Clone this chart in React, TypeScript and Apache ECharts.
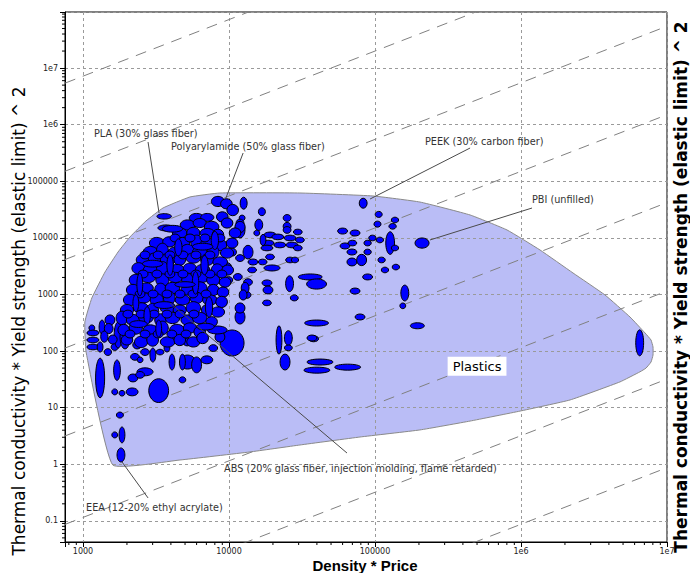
import React, { useEffect, useRef } from "react";
import * as echarts from "echarts";

// Axis ranges (log scales)
const X_MIN = 753;
const X_MAX = 1e7;
const Y_MIN = 0.0423;
const Y_MAX = 9.8e7;

const xTitle = "Density * Price";
const yTitle = "Thermal conductivity * Yield strength (elastic limit) ^ 2";

// Guide lines: y = ratio * x (slope 1 on log-log)
const guideRatios = [7200, 200, 5.5, 0.15, 0.0042, 0.000115, 0.0000032, 0.000000087];

// "Plastics" envelope outline (data units)
const envelopeX = [1600, 1050, 1030, 1150, 1416, 1738, 2100, 2700, 3530, 5400, 8670, 30600, 96800, 203000, 448000, 802000, 1350000, 2270000, 3760000, 5580000, 7070000, 7770000, 8020000, 8020000, 7770000, 7180000, 6530000, 4760000, 2170000, 984000, 448000, 203000, 78900, 30600, 13900, 4620];
const envelopeY = [0.97, 96, 327, 867, 2500, 5630, 10400, 19900, 33700, 52800, 62100, 62100, 55000, 43000, 25400, 13800, 6110, 2400, 980, 400, 209, 157, 118, 85, 64, 50, 43, 28.5, 13.7, 8.7, 5.8, 4.04, 3.03, 2.19, 1.65, 1.19];

// Material ellipses: [x centre, y centre, half-range x (decades), half-range y (decades)]
const materialsSparse: number[][] = [
  [3600, 24000, 0.05, 0.048], [3700, 15000, 0.055, 0.053], [8400, 44000, 0.045, 0.09], [9600, 40000, 0.04, 0.09],
  [10600, 31000, 0.04, 0.1], [12600, 41000, 0.024, 0.106], [9000, 23500, 0.04, 0.09], [12300, 22500, 0.02, 0.05],
  [16800, 29000, 0.024, 0.07], [16000, 17000, 0.027, 0.1], [25000, 22500, 0.027, 0.06], [25000, 16000, 0.027, 0.07],
  [15500, 12200, 0.02, 0.05], [11900, 13800, 0.034, 0.14], [11900, 18300, 0.027, 0.07], [13500, 5600, 0.034, 0.12],
  [10500, 5600, 0.03, 0.07], [9700, 3100, 0.03, 0.07], [11900, 4400, 0.03, 0.06], [14600, 3750, 0.034, 0.053],
  [17000, 3750, 0.03, 0.05], [19100, 4600, 0.03, 0.05], [19700, 2940, 0.055, 0.053], [26200, 4070, 0.03, 0.05],
  [28300, 4070, 0.025, 0.05], [14400, 2710, 0.03, 0.05], [11500, 2040, 0.03, 0.06], [9900, 1800, 0.03, 0.06],
  [13500, 1650, 0.03, 0.06], [12900, 1300, 0.027, 0.1], [12500, 980, 0.027, 0.09], [18200, 1600, 0.034, 0.053],
  [18500, 1200, 0.034, 0.07], [18200, 710, 0.03, 0.05], [26000, 1550, 0.027, 0.14], [28000, 870, 0.027, 0.053],
  [36000, 2040, 0.082, 0.053], [39800, 1530, 0.068, 0.09], [73000, 1150, 0.034, 0.053], [89000, 2040, 0.034, 0.053],
  [83000, 41000, 0.027, 0.088], [106000, 26000, 0.024, 0.053], [104000, 17500, 0.024, 0.053], [60000, 13200, 0.034, 0.053],
  [73000, 12200, 0.034, 0.053], [62300, 7200, 0.034, 0.053], [70000, 8100, 0.03, 0.05], [89000, 8100, 0.025, 0.05],
  [69500, 5630, 0.034, 0.053], [89000, 5630, 0.025, 0.05], [69500, 3750, 0.034, 0.07], [81000, 4070, 0.034, 0.1],
  [96000, 9960, 0.025, 0.05], [108000, 9180, 0.025, 0.05], [127000, 8100, 0.03, 0.2], [137000, 20700, 0.025, 0.05],
  [132000, 16000, 0.025, 0.05], [137000, 6630, 0.025, 0.05], [111000, 4070, 0.025, 0.05], [117000, 2710, 0.025, 0.05],
  [139000, 3050, 0.025, 0.05], [160000, 1060, 0.027, 0.14], [155000, 630, 0.02, 0.05], [79000, 400, 0.034, 0.053],
  [195000, 280, 0.048, 0.053], [39800, 313, 0.082, 0.053], [38000, 165, 0.034, 0.053], [22000, 157, 0.02, 0.25],
  [25500, 170, 0.027, 0.13], [24200, 64, 0.034, 0.14], [25500, 114, 0.027, 0.05], [37000, 170, 0.034, 0.053],
  [42000, 64, 0.089, 0.053], [40000, 46, 0.089, 0.053], [65000, 52, 0.089, 0.053], [210000, 8100, 0.048, 0.09],
  [6500000, 140, 0.027, 0.23],
  [19100, 11300, 0.041, 0.05], [21600, 10400, 0.041, 0.05], [26200, 9960, 0.041, 0.05], [29600, 12700, 0.03, 0.05],
  [30600, 9180, 0.03, 0.05], [18500, 8120, 0.041, 0.05], [22300, 7490, 0.041, 0.05], [27000, 7490, 0.041, 0.05],
  [29600, 6630, 0.03, 0.05], [18200, 6630, 0.041, 0.05], [17100, 9180, 0.02, 0.1], [25000, 13800, 0.027, 0.06],
];

const materialsLow: number[][] = [
  [3300, 20, 0.068, 0.21], [1790, 7.4, 0.024, 0.053], [1650, 3.3, 0.02, 0.053], [1850, 3.3, 0.02, 0.14],
  [1820, 1.46, 0.027, 0.124], [1310, 33.5, 0.031, 0.35], [1710, 46, 0.023, 0.18], [1650, 19, 0.02, 0.053],
  [1850, 18, 0.02, 0.05], [2170, 19, 0.041, 0.07], [2200, 33.5, 0.034, 0.07], [2660, 43, 0.055, 0.07],
  [2460, 38, 0.03, 0.06], [4800, 31, 0.023, 0.053], [5200, 64, 0.055, 0.124], [6000, 57, 0.034, 0.14],
  [7050, 70, 0.041, 0.07], [4800, 64, 0.02, 0.14], [4070, 64, 0.02, 0.14], [10500, 139, 0.082, 0.23],
  [8670, 177, 0.034, 0.09], [7800, 113, 0.03, 0.06], [8300, 236, 0.068, 0.07], [11900, 400, 0.034, 0.124],
  [11900, 577, 0.034, 0.09], [13200, 980, 0.03, 0.06], [1150, 256, 0.02, 0.053], [1170, 209, 0.041, 0.05],
  [1170, 157, 0.041, 0.05], [1170, 118, 0.041, 0.05], [1350, 265, 0.02, 0.124], [1310, 118, 0.02, 0.09],
  [1530, 354, 0.034, 0.09], [1480, 96, 0.025, 0.06], [1650, 118, 0.025, 0.06], [1740, 192, 0.027, 0.23],
  [1940, 177, 0.034, 0.21], [2350, 128, 0.03, 0.07], [2270, 79, 0.03, 0.06], [2660, 96, 0.03, 0.06],
  [2460, 70, 0.02, 0.05], [3010, 85, 0.02, 0.124], [3370, 96, 0.027, 0.05], [3760, 113, 0.02, 0.07],
  [4270, 170, 0.03, 0.07], [5170, 145, 0.03, 0.07],
  [1500, 250, 0.03, 0.09], [1600, 160, 0.03, 0.08], [1400, 180, 0.025, 0.1],
];

const materialsCore: number[][] = [
  [6000, 22500, 0.05, 0.08], [7100, 23000, 0.045, 0.07],
  [5200, 16900, 0.05, 0.09], [6300, 18300, 0.045, 0.08], [7600, 15600, 0.05, 0.1], [9700, 18300, 0.04, 0.09], [11900, 15600, 0.035, 0.1],
  [4600, 12200, 0.05, 0.09], [5700, 12200, 0.045, 0.1], [7100, 12200, 0.05, 0.08], [8400, 11300, 0.04, 0.1], [11000, 12200, 0.04, 0.09],
  [3200, 8100, 0.05, 0.1], [3900, 8500, 0.045, 0.09], [4800, 8100, 0.05, 0.1], [6000, 8500, 0.04, 0.12], [7200, 8100, 0.05, 0.09], [8700, 7500, 0.045, 0.1], [10500, 8100, 0.04, 0.09],
  [2900, 5600, 0.05, 0.1], [3500, 6100, 0.04, 0.12], [4300, 5600, 0.05, 0.09], [5200, 6100, 0.045, 0.1], [6300, 5600, 0.05, 0.09], [7800, 5600, 0.04, 0.11], [9700, 5400, 0.045, 0.09],
  [2600, 4100, 0.05, 0.1], [3100, 4400, 0.045, 0.09], [3800, 4100, 0.05, 0.11], [4600, 4100, 0.04, 0.1], [5700, 4400, 0.05, 0.09], [7100, 4100, 0.045, 0.1], [8700, 3750, 0.05, 0.09],
  [2400, 2900, 0.045, 0.1], [2900, 2700, 0.05, 0.09], [3500, 2900, 0.04, 0.12], [4400, 2700, 0.05, 0.1], [5400, 2900, 0.045, 0.09], [6600, 2700, 0.05, 0.1], [8300, 2700, 0.04, 0.11], [9800, 2700, 0.04, 0.09],
  [2300, 1800, 0.045, 0.1], [2800, 2000, 0.05, 0.09], [3500, 1800, 0.045, 0.11], [4300, 2000, 0.05, 0.09], [5200, 1800, 0.04, 0.12], [6500, 2000, 0.05, 0.09], [7800, 1800, 0.045, 0.1], [9400, 1650, 0.04, 0.09],
  [2200, 1200, 0.045, 0.1], [2700, 1300, 0.05, 0.09], [3400, 1200, 0.04, 0.12], [4100, 1300, 0.05, 0.1], [5200, 1200, 0.045, 0.09], [6300, 1300, 0.05, 0.11], [7800, 1200, 0.04, 0.1], [9100, 1100, 0.04, 0.09],
  [2100, 800, 0.045, 0.1], [2600, 870, 0.05, 0.09], [3200, 800, 0.045, 0.11], [3900, 870, 0.04, 0.12], [4800, 800, 0.05, 0.09], [6000, 870, 0.045, 0.1], [7400, 800, 0.05, 0.09], [8900, 740, 0.04, 0.1],
  [2000, 530, 0.045, 0.1], [2500, 580, 0.05, 0.09], [3000, 530, 0.04, 0.12], [3800, 580, 0.05, 0.1], [4600, 530, 0.045, 0.09], [5700, 580, 0.05, 0.11], [7100, 530, 0.04, 0.1], [8400, 490, 0.045, 0.09],
  [1850, 385, 0.04, 0.12], [2200, 354, 0.045, 0.1], [2700, 385, 0.05, 0.09], [3400, 354, 0.04, 0.11], [4100, 385, 0.05, 0.1], [5200, 354, 0.045, 0.09], [6300, 385, 0.05, 0.1], [7600, 330, 0.04, 0.09],
  [1900, 236, 0.04, 0.1], [2300, 256, 0.045, 0.11], [2900, 236, 0.05, 0.09], [3500, 256, 0.04, 0.12], [4400, 236, 0.05, 0.1], [5400, 256, 0.045, 0.09], [6300, 218, 0.04, 0.1],
  [2000, 157, 0.04, 0.09], [2500, 145, 0.045, 0.1], [3000, 157, 0.04, 0.11], [3800, 145, 0.05, 0.09], [4600, 157, 0.04, 0.1], [5700, 145, 0.045, 0.09], [6600, 170, 0.04, 0.1],
  [4270, 9960, 0.034, 0.07], [5410, 9960, 0.034, 0.07], [6850, 9960, 0.034, 0.07], [8670, 9960, 0.034, 0.07],
  [2660, 4990, 0.034, 0.07], [3270, 4990, 0.034, 0.07], [3940, 4990, 0.034, 0.07], [4840, 4990, 0.034, 0.07], [5940, 4990, 0.034, 0.07], [7410, 4990, 0.034, 0.07],
  [2580, 2300, 0.034, 0.07], [3210, 2300, 0.034, 0.07], [3940, 2300, 0.034, 0.07], [4840, 2300, 0.034, 0.07], [5940, 2300, 0.034, 0.07], [7410, 2300, 0.034, 0.07], [8940, 2300, 0.034, 0.07],
  [2460, 1020, 0.034, 0.07], [3020, 1020, 0.034, 0.07], [3760, 1020, 0.034, 0.07], [4620, 1020, 0.034, 0.07], [5660, 1020, 0.034, 0.07], [6960, 1020, 0.034, 0.07],
  [2030, 450, 0.034, 0.07], [2500, 450, 0.034, 0.07], [3070, 450, 0.034, 0.07], [3760, 450, 0.034, 0.07], [4620, 450, 0.034, 0.07], [5750, 450, 0.034, 0.07],
  [2100, 200, 0.034, 0.07], [2660, 200, 0.034, 0.07], [3270, 200, 0.034, 0.07], [4060, 200, 0.034, 0.07], [5080, 200, 0.034, 0.07],
  [2450, 1500, 0.02, 0.2], [3950, 3300, 0.022, 0.18], [5900, 1600, 0.022, 0.2], [7300, 600, 0.025, 0.18], [2750, 420, 0.022, 0.16],
  [4500, 6800, 0.025, 0.15], [8000, 9000, 0.025, 0.16], [3300, 250, 0.02, 0.15], [6800, 3300, 0.025, 0.17], [2300, 700, 0.02, 0.15],
  [4100, 14500, 0.07, 0.06], [6600, 7000, 0.07, 0.06], [3000, 3500, 0.07, 0.06], [5000, 1500, 0.07, 0.05], [3600, 650, 0.07, 0.06],
  [6900, 270, 0.06, 0.06], [2400, 300, 0.06, 0.06],
];

// Annotations
const annotationTexts = [
  "PLA (30% glass fiber)",
  "Polyarylamide (50% glass fiber)",
  "PEEK (30% carbon fiber)",
  "PBI (unfilled)",
  "ABS (20% glass fiber, injection molding, flame retarded)",
  "EEA (12-20% ethyl acrylate)",
];
const annotationLabelX = [1190, 4010, 220000, 1190000, 9250, 1050];
const annotationLabelY = [713000, 404000, 515000, 48600, 0.826, 0.169];
const leaderStartX = [2790, 12500, 448000, 1190000, 64300, 2790];
const leaderStartY = [494000, 316000, 387000, 33700, 1.58, 0.254];
const leaderEndX = [3320, 9530, 92500, 238000, 3940, 1850];
const leaderEndY = [27500, 50700, 48600, 9180, 708, 1.1];

const regionLabel = "Plastics";
const regionLabelX = 500000;
const regionLabelY = 54;

const FONT = "'DejaVu Sans', Verdana, sans-serif";

function fmtTick(v: number): string {
  const e = Math.log10(v);
  const r = Math.round(e);
  if (Math.abs(e - r) > 1e-6) return "";
  if (r >= 6) return "1e" + r;
  if (r >= 0) return String(Math.pow(10, r));
  return String(Number(Math.pow(10, r).toFixed(-r)));
}

function minorTicks(lo: number, hi: number): number[] {
  const out: number[] = [];
  for (let e = -3; e <= 8; e++) {
    for (let m = 2; m <= 9; m++) {
      const v = m * Math.pow(10, e);
      if (v > lo && v < hi) out.push(v);
    }
  }
  return out;
}

function ellipseSeries(data: number[][], z: number) {
  return {
    type: "custom",
    z,
    silent: true,
    data,
    renderItem: (params: any, api: any) => {
      const x = api.value(0);
      const y = api.value(1);
      const hx = api.value(2);
      const hy = api.value(3);
      const c = api.coord([x, y]);
      const l = api.coord([x / Math.pow(10, hx), y]);
      const t = api.coord([x, y * Math.pow(10, hy)]);
      return {
        type: "ellipse",
        shape: { cx: c[0], cy: c[1], rx: Math.abs(c[0] - l[0]), ry: Math.abs(c[1] - t[1]) },
        style: { fill: "#0000ff", stroke: "#000000", lineWidth: 1 },
      };
    },
  };
}

export default function App() {
  const ref = useRef<HTMLDivElement>(null);

  useEffect(() => {
    if (!ref.current) return;
    const chart = echarts.init(ref.current, null, { renderer: "svg" });

    const xMinor = minorTicks(X_MIN, X_MAX);
    const yMinor = minorTicks(Y_MIN, Y_MAX);
    const tickData: number[][] = [
      ...xMinor.map((v) => [v, Y_MIN, 0]),
      ...yMinor.map((v) => [X_MIN, v, 1]),
    ];

    const envelopeData = envelopeX.map((x, i) => [x, envelopeY[i]]);

    const axisCommon = {
      type: "log",
      logBase: 10,
      splitNumber: 10,
      z: 2,
      axisLine: { show: true, lineStyle: { color: "#000", width: 1 } },
      axisTick: { show: true, inside: false, length: 5, lineStyle: { color: "#000", width: 1 } },
      minorTick: { show: false },
      splitLine: { show: true, lineStyle: { color: "#9a9a9a", width: 1, type: [3, 3] } },
      axisLabel: {
        formatter: (v: number) => fmtTick(v),
        fontSize: 8,
        fontFamily: FONT,
        color: "#222",
      },
    };

    const option: any = {
      animation: false,
      backgroundColor: "#ffffff",
      grid: {
        left: 65,
        right: 23,
        top: 12,
        bottom: 31,
        show: true,
        borderColor: "#000",
        borderWidth: 1,
        backgroundColor: "#ffffff",
        outerBoundsMode: "none",
        containLabel: false,
      },
      xAxis: {
        ...axisCommon,
        min: X_MIN,
        max: X_MAX,
        axisLabel: { ...axisCommon.axisLabel, margin: 5 },
      },
      yAxis: {
        ...axisCommon,
        min: Y_MIN,
        max: Y_MAX,
        axisLabel: { ...axisCommon.axisLabel, margin: 7 },
      },
      graphic: [
        {
          type: "text",
          x: 365,
          y: 565,
          style: {
            text: xTitle,
            fontSize: 15,
            fontWeight: "bold",
            fontFamily: "'Liberation Sans', Arial, sans-serif",
            fill: "#000",
            align: "center",
            verticalAlign: "middle",
            textAlign: "center",
            textVerticalAlign: "middle",
          },
        },
        {
          type: "text",
          x: 19,
          y: 321,
          rotation: Math.PI / 2,
          style: {
            text: yTitle,
            fontSize: 17,
            fontFamily: FONT,
            fill: "#000",
            align: "center",
            verticalAlign: "middle",
            textAlign: "center",
            textVerticalAlign: "middle",
          },
        },
        {
          type: "text",
          x: 681,
          y: 287,
          rotation: Math.PI / 2,
          style: {
            text: yTitle,
            fontSize: 17,
            fontWeight: "bold",
            fontFamily: FONT,
            fill: "#000",
            align: "center",
            verticalAlign: "middle",
            textAlign: "center",
            textVerticalAlign: "middle",
          },
        },
      ],
      series: [
        {
          type: "custom",
          z: 1,
          silent: true,
          data: envelopeData,
          renderItem: (params: any, api: any) => {
            if (params.dataIndex !== 0) return null;
            const pts = envelopeData.map((p) => api.coord(p));
            return {
              type: "polygon",
              shape: { points: pts, smooth: 0.12 },
              style: { fill: "#babdf6", stroke: "#8a8a8a", lineWidth: 1 },
            };
          },
        },
        ...guideRatios.map((r) => ({
          type: "line",
          z: 3,
          silent: true,
          symbol: "none",
          clip: true,
          data: [
            [X_MIN, X_MIN * r],
            [X_MAX, X_MAX * r],
          ],
          lineStyle: { color: "#808080", width: 1, type: [11, 8] },
        })),
        ellipseSeries(materialsLow, 4),
        ellipseSeries(materialsSparse, 4),
        ellipseSeries(materialsCore, 4),
        {
          type: "custom",
          z: 6,
          silent: true,
          data: annotationTexts.map((_, i) => [leaderEndX[i], leaderEndY[i], i]),
          renderItem: (params: any, api: any) => {
            const i = params.dataIndex;
            const e = api.coord([leaderEndX[i], leaderEndY[i]]);
            const s = api.coord([leaderStartX[i], leaderStartY[i]]);
            const t = api.coord([annotationLabelX[i], annotationLabelY[i]]);
            return {
              type: "group",
              children: [
                {
                  type: "line",
                  shape: { x1: s[0], y1: s[1], x2: e[0], y2: e[1] },
                  style: { stroke: "#4a4a4a", lineWidth: 1 },
                },
                {
                  type: "text",
                  x: t[0],
                  y: t[1],
                  style: {
                    text: annotationTexts[i],
                    fontSize: 9.7,
                    fontFamily: FONT,
                    fill: "#333",
                    align: "left",
                    verticalAlign: "middle",
                    textAlign: "left",
                    textVerticalAlign: "middle",
                  },
                },
              ],
            };
          },
        },
        {
          type: "custom",
          z: 6,
          silent: true,
          data: [[regionLabelX, regionLabelY]],
          renderItem: (params: any, api: any) => {
            const p = api.coord([api.value(0), api.value(1)]);
            return {
              type: "text",
              x: p[0],
              y: p[1],
              style: {
                text: regionLabel,
                fontSize: 13,
                fontFamily: FONT,
                fill: "#000",
                align: "center",
                verticalAlign: "middle",
                textAlign: "center",
                textVerticalAlign: "middle",
                backgroundColor: "#ffffff",
                padding: [3, 5],
              },
            };
          },
        },
        {
          type: "custom",
          z: 6,
          silent: true,
          data: tickData,
          renderItem: (params: any, api: any) => {
            const p = api.coord([api.value(0), api.value(1)]);
            const horiz = api.value(2) === 1;
            return {
              type: "line",
              shape: horiz
                ? { x1: p[0] - 3, y1: p[1], x2: p[0], y2: p[1] }
                : { x1: p[0], y1: p[1], x2: p[0], y2: p[1] + 3 },
              style: { stroke: "#000", lineWidth: 1 },
            };
          },
        },
      ],
    };

    chart.setOption(option);
    return () => chart.dispose();
  }, []);

  return (
    <div
      ref={ref}
      style={{ position: "fixed", left: 0, top: 0, width: 690, height: 573, background: "#fff" }}
    />
  );
}
